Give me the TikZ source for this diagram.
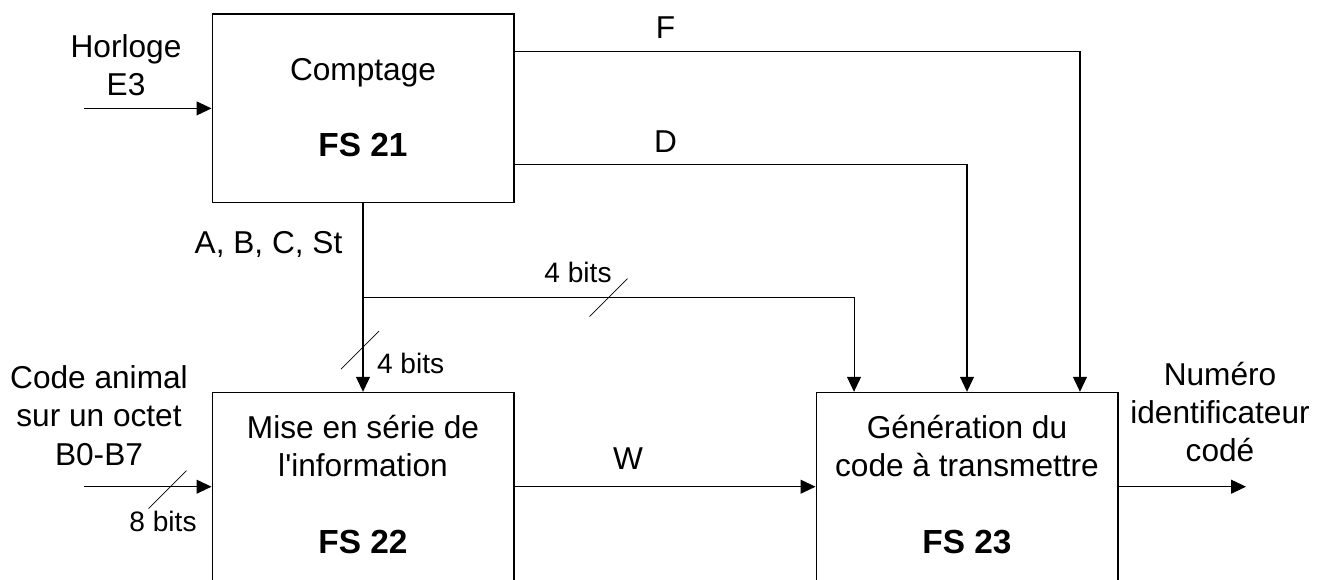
\documentclass[tikz,border=0pt]{standalone}
\usepackage{fontspec}
\setmainfont{Liberation Sans}[Ligatures=TeXOff]
\usetikzlibrary{arrows.meta,positioning}

\begin{document}
\begin{tikzpicture}[x=0.02cm, y=-0.02cm, >={Triangle[length=0.3cm, width=0.28cm]}, font=\fontsize{18}{21.8}\selectfont]
        \tikzstyle{bloc}=[rectangle, draw=black, line width=0.6pt, minimum width=6.04cm, minimum height=3.776cm, inner sep=0pt]
        \tikzstyle{fleche}=[->, line width=0.6pt]
        \tikzstyle{libelle}=[align=center, inner sep=0pt, anchor=base]
        \tikzstyle{petit}=[inner sep=0pt, anchor=base, font=\fontsize{16}{19}\selectfont]
        \tikzstyle{fsnum}=[inner sep=0pt, anchor=base, font=\fontsize{19}{22}\selectfont\bfseries]
        \clip (0,0) rectangle (1320,579);
        \node[bloc] (fs21) at (363,108.4) {};
        \node[bloc] (fs22) at (363,486.7) {};
        \node[bloc] (fs23) at (967,486.7) {};
        \node[libelle] (cpt) at (363,80) {Comptage};
        \node[fsnum] (n21) at (363,156.7) {FS 21};
        \node[libelle] (mes) at (363,476.7) {Mise en série de\\l'information};
        \node[fsnum] (n22) at (363,553.3) {FS 22};
        \node[libelle] (gen) at (967,476.7) {Génération du\\code à transmettre};
        \node[fsnum] (n23) at (967,553.3) {FS 23};
        \node[libelle] (horloge) at (126,95.7) {Horloge\\E3};
        \node[libelle] (animal) at (99,465) {Code animal\\sur un octet\\B0-B7};
        \node[libelle] (numero) at (1220,461.7) {Numéro\\identificateur\\codé};
        \node[libelle] (lF) at (665.5,38.3) {F};
        \node[libelle] (lD) at (665.5,152.3) {D};
        \node[libelle] (lW) at (628,469.3) {W};
        \node[libelle, anchor=base east] (lABC) at (342.7,253.3) {A, B, C, St};
        \node[petit] (b4h) at (578,282.7) {4 bits};
        \node[petit, anchor=base west] (b4v) at (376.7,373.3) {4 bits};
        \node[petit] (b8) at (163,531.7) {8 bits};
        \coordinate (horl) at (84,108.4);
        \coordinate (code) at (84,486.7);
        \coordinate (sortie) at (1246,486.7);
        \coordinate (jct) at (363,297.7);
        \draw[fleche] (horl) -- (fs21.west);
        \draw[fleche] (code) -- (fs22.west);
        \draw[fleche] (fs22.east) -- (fs23.west);
        \draw[fleche] (fs23.east) -- (sortie);
        \draw[fleche] (fs21.south) -- (fs22.north);
        \draw[fleche] (jct) -| ([xshift=-2.26cm]fs23.north);
        \draw[fleche] ([yshift=-0.754cm]fs21.north east) -| ([xshift=2.26cm]fs23.north);
        \draw[fleche] ([yshift=-3.02cm]fs21.north east) -| (fs23.north);
        \foreach \cx/\cy in {360/350, 608.5/297.5, 167.5/489.7} {
            \draw[line width=0.4pt] (\cx-19,\cy+19) -- (\cx+19,\cy-19);
        }
    \end{tikzpicture}
\end{document}
